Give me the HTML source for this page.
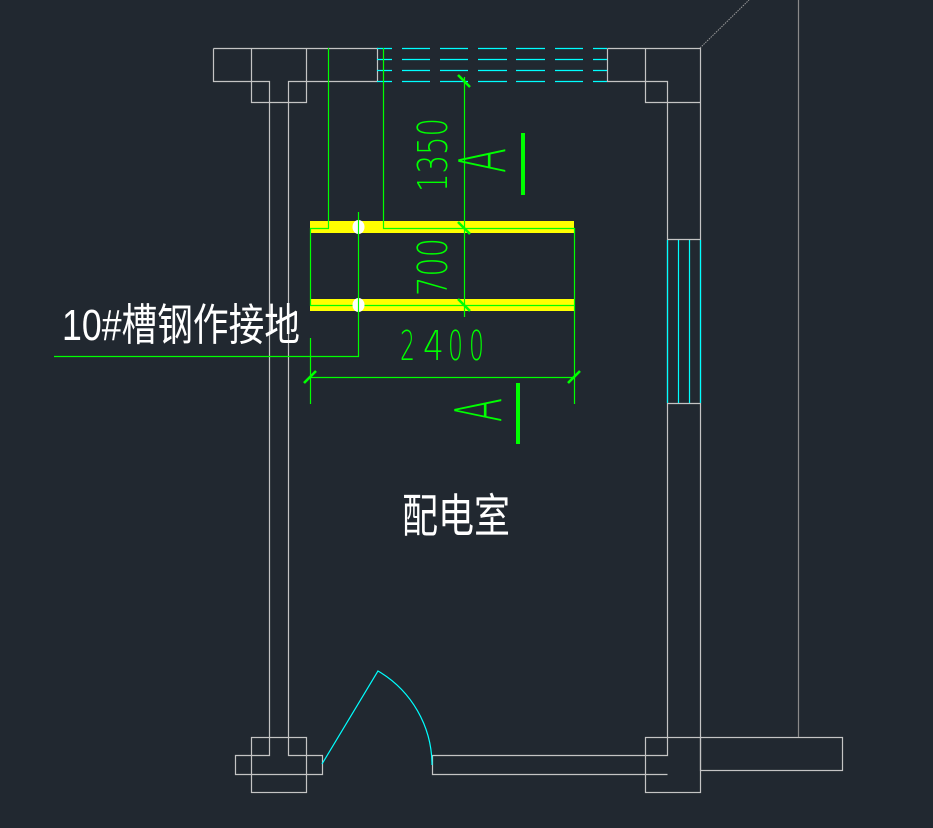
<!DOCTYPE html>
<html><head><meta charset="utf-8"><style>
html,body{margin:0;padding:0;background:#212830;}
svg{display:block;}
</style></head><body>
<svg width="933" height="828" viewBox="0 0 933 828" xmlns="http://www.w3.org/2000/svg">
<rect width="933" height="828" fill="#212830"/>
<!-- yellow bars -->
<rect x="310" y="221" width="264" height="12" fill="#ffff00"/>
<rect x="310" y="299" width="264" height="12" fill="#ffff00"/>
<g fill="none" stroke="#c4c4c4" stroke-width="1.2">
<path d="M213.5 48.5H377.5V81.5M213.5 48.5V81.5H269.5V755.5H235.5V774.5H322.5V755.5H288.5V81.5H377.5"/>
<path d="M251.5 48.5V102.5H306.5V48.5"/>
<rect x="251.5" y="737.5" width="55" height="55"/>
<path d="M607.5 48.5H700.5V737.5M607.5 48.5V81.5H667.5V755.5H432.5V774.5H667.5"/>
<path d="M645.5 48.5V102.5H700.5"/>
<rect x="645.5" y="737.5" width="55" height="55"/>
<rect x="700.5" y="737.5" width="142" height="33"/>
<path d="M667.5 239.5H700.5M667.5 403.5H700.5"/>
</g>
<path d="M798.5 0V737" stroke="#8a8a8a" stroke-width="1.2"/>
<path d="M700 48L749 0" stroke="#9a9a9a" stroke-width="1" stroke-dasharray="1.5 1"/>
<!-- cyan -->
<g stroke="#00ffff" stroke-width="1.2" fill="none">
<path d="M377 48.5H392M402 48.5H430M440 48.5H468M478 48.5H507M516 48.5H545M555 48.5H583M593 48.5H607"/>
<path d="M377 59.5H392M402 59.5H430M440 59.5H468M478 59.5H507M516 59.5H545M555 59.5H583M593 59.5H607"/>
<path d="M377 70.5H392M402 70.5H430M440 70.5H468M478 70.5H507M516 70.5H545M555 70.5H583M593 70.5H607"/>
<path d="M377 81.5H392M402 81.5H430M440 81.5H468M478 81.5H507M516 81.5H545M555 81.5H583M593 81.5H607"/>
<path d="M667.5 240V403M678.5 240V403M689.5 240V403M700.5 240V403"/>
<path d="M322 764L378 671A109 109 0 0 1 432 765"/>
</g>
<!-- green -->
<g stroke="#00ff00" stroke-width="1.2" fill="none">
<path d="M328.5 48V228.5H310"/>
<path d="M383.5 48V228.5H574.5V404"/>
<path d="M310.5 228V305.5H574.5"/>
<path d="M358.5 212V356.5H54"/>
<path d="M464.5 77V317"/>
<path d="M310.5 338V404"/>
<path d="M310 377.5H574"/>
</g>
<g stroke="#00ff00" stroke-width="2.6">
<path d="M458 75L470 87M458 222L470 234M458 299L470 311"/>
<path d="M304 383L316 371M568 383L580 371"/>
</g>
<rect x="521" y="133" width="4" height="62" fill="#00ff00"/>
<rect x="516" y="383" width="4" height="61" fill="#00ff00"/>
<!-- white dots -->
<ellipse cx="358.5" cy="227" rx="6" ry="7" fill="#ffffff"/>
<ellipse cx="358.5" cy="305" rx="6" ry="7" fill="#ffffff"/>
<path d="M358.5 219V235M358.5 297V313" stroke="#00ff00" stroke-width="1.2"/>
<!-- dimension texts -->
<g fill="#00ff00" font-family="'DejaVu Sans','Liberation Sans',sans-serif" font-weight="200" font-size="41">
<text transform="translate(447,192) rotate(-90)" x="0" y="0" textLength="74" lengthAdjust="spacingAndGlyphs">1350</text>
<text transform="translate(447,296) rotate(-90)" x="0" y="0" textLength="58" lengthAdjust="spacingAndGlyphs">700</text>
<text x="400" y="360" textLength="15" lengthAdjust="spacingAndGlyphs">2</text>
<text x="423" y="360" textLength="21" lengthAdjust="spacingAndGlyphs">4</text>
<text x="448" y="360" textLength="15" lengthAdjust="spacingAndGlyphs">0</text>
<text x="469" y="360" textLength="15" lengthAdjust="spacingAndGlyphs">0</text>
</g>
<g fill="#00ff00" font-family="'DejaVu Sans','Liberation Sans',sans-serif" font-weight="200" font-size="64">
<text transform="translate(505,173) rotate(-90)" x="0" y="0" textLength="25" lengthAdjust="spacingAndGlyphs">A</text>
<text transform="translate(501,422) rotate(-90)" x="0" y="0" textLength="24" lengthAdjust="spacingAndGlyphs">A</text>
</g>
<!-- labels -->
<text x="62" y="340" fill="#ffffff" font-family="'Liberation Sans','Noto Sans CJK SC',sans-serif" font-size="44" textLength="238" lengthAdjust="spacingAndGlyphs">10#槽钢作接地</text>
<text x="402" y="532" fill="#ffffff" font-family="'Liberation Sans','Noto Sans CJK SC',sans-serif" font-size="46" textLength="108" lengthAdjust="spacingAndGlyphs">配电室</text>
</svg>
</body></html>
